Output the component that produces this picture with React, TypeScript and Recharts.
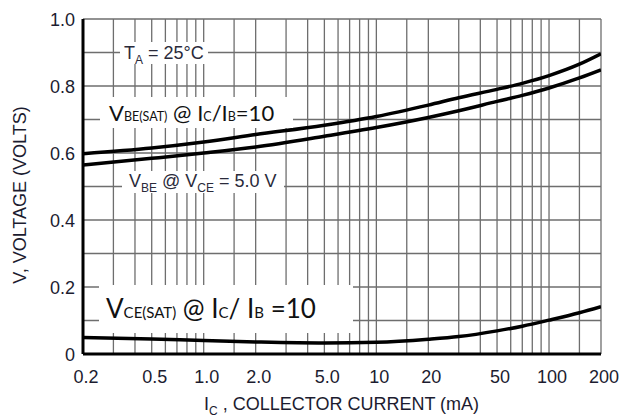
import React from "react";
import { LineChart, Line, XAxis, YAxis, CartesianGrid } from "recharts";

const currentMA = [0.2, 0.5, 1, 2, 5, 10, 20, 30, 50, 70, 100, 150, 200];
const vbeSatVolts = [0.598, 0.615, 0.633, 0.655, 0.683, 0.709, 0.743, 0.765, 0.79, 0.808, 0.831, 0.865, 0.896];
const vbeVolts = [0.564, 0.584, 0.6, 0.618, 0.65, 0.676, 0.706, 0.726, 0.754, 0.772, 0.794, 0.824, 0.848];
const vceSatVolts = [0.049, 0.045, 0.04, 0.036, 0.033, 0.035, 0.044, 0.052, 0.069, 0.083, 0.101, 0.123, 0.141];

const xGridTicks = [0.2, 0.3, 0.4, 0.5, 0.6, 0.7, 0.8, 0.9, 1, 1.5, 2, 3, 4, 5, 6, 7, 8, 9, 10, 15, 20, 30, 40, 50, 60, 70, 80, 90, 100, 150, 200];
const xLabelValues = [0.2, 0.5, 1, 2, 5, 10, 20, 50, 100, 200];
const xLabelTexts = ["0.2", "0.5", "1.0", "2.0", "5.0", "10", "20", "50", "100", "200"];
const yGridTicks = [0, 0.1, 0.2, 0.3, 0.4, 0.5, 0.6, 0.7, 0.8, 0.9, 1.0];
const yLabelValues = [0, 0.2, 0.4, 0.6, 0.8, 1.0];
const yLabelTexts = ["0", "0.2", "0.4", "0.6", "0.8", "1.0"];

const data = currentMA.map((ic, i) => ({
  ic,
  vbeSat: vbeSatVolts[i],
  vbe: vbeVolts[i],
  vceSat: vceSatVolts[i],
}));

const ARIAL = "'Liberation Sans', Arial, sans-serif";
const CAL = "Lato, 'Open Sans', sans-serif";
const TXT = "#1c1c30";

const XTick = (props: any) => {
  const { x, y, payload } = props;
  const idx = xLabelValues.findIndex((v) => Math.abs(v - payload.value) < 1e-9);
  if (idx < 0) return <g />;
  return (
    <text x={x + 3} y={y + 29} textAnchor="middle" fontSize={18} fill={TXT} fontFamily={ARIAL}>
      {xLabelTexts[idx]}
    </text>
  );
};

const YTick = (props: any) => {
  const { x, y, payload } = props;
  const idx = yLabelValues.findIndex((v) => Math.abs(v - payload.value) < 1e-9);
  if (idx < 0) return <g />;
  return (
    <text x={x - 8} y={y + 6.5} textAnchor="end" fontSize={18} fill={TXT} fontFamily={ARIAL}>
      {yLabelTexts[idx]}
    </text>
  );
};

const box = (left: number, top: number, width: number, height: number): React.CSSProperties => ({
  position: "absolute",
  left,
  top,
  width,
  height,
  background: "#fff",
});

const sub = (fs: number, drop: number): React.CSSProperties => ({
  fontSize: fs,
  position: "relative",
  top: drop,
});

export default function App() {
  return (
    <div style={{ position: "absolute", left: 0, top: 0, width: 623, height: 419, background: "#fff" }}>
      <LineChart
        width={623}
        height={419}
        data={data}
        margin={{ top: 19, right: 22, bottom: 0, left: 0 }}
      >
        <CartesianGrid stroke="#6e6e6e" strokeWidth={1.3} />
        <XAxis
          dataKey="ic"
          type="number"
          scale="log"
          domain={[0.2, 200]}
          ticks={xGridTicks}
          interval={0}
          tick={<XTick />}
          tickLine={false}
          tickSize={0}
          tickMargin={0}
          height={65}
          axisLine={{ stroke: "#000", strokeWidth: 3 }}
          allowDataOverflow
        />
        <YAxis
          type="number"
          domain={[0, 1]}
          ticks={yGridTicks}
          interval={0}
          tick={<YTick />}
          tickLine={false}
          tickSize={0}
          tickMargin={0}
          width={83}
          axisLine={{ stroke: "#000", strokeWidth: 3 }}
        />
        <Line dataKey="vbeSat" type="monotone" stroke="#000" strokeWidth={3.5} dot={false} isAnimationActive={false} />
        <Line dataKey="vbe" type="monotone" stroke="#000" strokeWidth={3.5} dot={false} isAnimationActive={false} />
        <Line dataKey="vceSat" type="monotone" stroke="#000" strokeWidth={3.5} dot={false} isAnimationActive={false} />
      </LineChart>

      {/* T_A annotation */}
      <div style={box(120, 42, 88, 22)} />
      <div style={{ position: "absolute", left: 124, top: 42, fontFamily: ARIAL, fontSize: 18, color: "#2a2a3a", whiteSpace: "nowrap", lineHeight: "22px" }}>
        T<span style={sub(12, 5)}>A</span> = 25°C
      </div>

      {/* VBE(SAT) annotation */}
      <div style={box(100, 97, 193, 31)} />
      <div style={{ position: "absolute", left: 109, top: 97, fontFamily: CAL, fontSize: 22, color: "#111", whiteSpace: "nowrap", lineHeight: "31px" }}>
        V<span style={{ fontSize: 12.5 }}>BE(SAT)</span> @ I<span style={{ fontSize: 12.5 }}>C</span>/I<span style={{ fontSize: 12.5 }}>B</span>=10
      </div>

      {/* VBE @ VCE annotation */}
      <div style={box(122, 171, 162, 22)} />
      <div style={{ position: "absolute", left: 129, top: 170, fontFamily: ARIAL, fontSize: 18, color: "#2a2a3a", whiteSpace: "nowrap", lineHeight: "22px" }}>
        V<span style={sub(12, 5)}>BE</span> @ V<span style={sub(12, 5)}>CE</span> = 5.0 V
      </div>

      {/* VCE(SAT) annotation */}
      <div style={box(99, 285, 254, 48)} />
      <div style={{ position: "absolute", left: 106, top: 289, fontFamily: CAL, fontSize: 26, color: "#111", whiteSpace: "nowrap", lineHeight: "38px" }}>
        V<span style={{ fontSize: 15 }}>CE(SAT)</span> @ I<span style={{ fontSize: 15 }}>C</span>/ I<span style={{ fontSize: 15 }}>B</span> =10
      </div>

      {/* Y axis title */}
      <div
        style={{
          position: "absolute",
          left: 20,
          top: 195,
          transform: "translate(-50%, -50%) rotate(-90deg)",
          fontFamily: ARIAL,
          fontSize: 18,
          color: TXT,
          whiteSpace: "nowrap",
          lineHeight: "20px",
        }}
      >
        V, VOLTAGE (VOLTS)
      </div>

      {/* X axis title */}
      <div style={{ position: "absolute", left: 204, top: 393, fontFamily: ARIAL, fontSize: 18, color: TXT, whiteSpace: "nowrap", lineHeight: "22px" }}>
        I<span style={sub(12, 5)}>C</span> , COLLECTOR CURRENT (mA)
      </div>
    </div>
  );
}
